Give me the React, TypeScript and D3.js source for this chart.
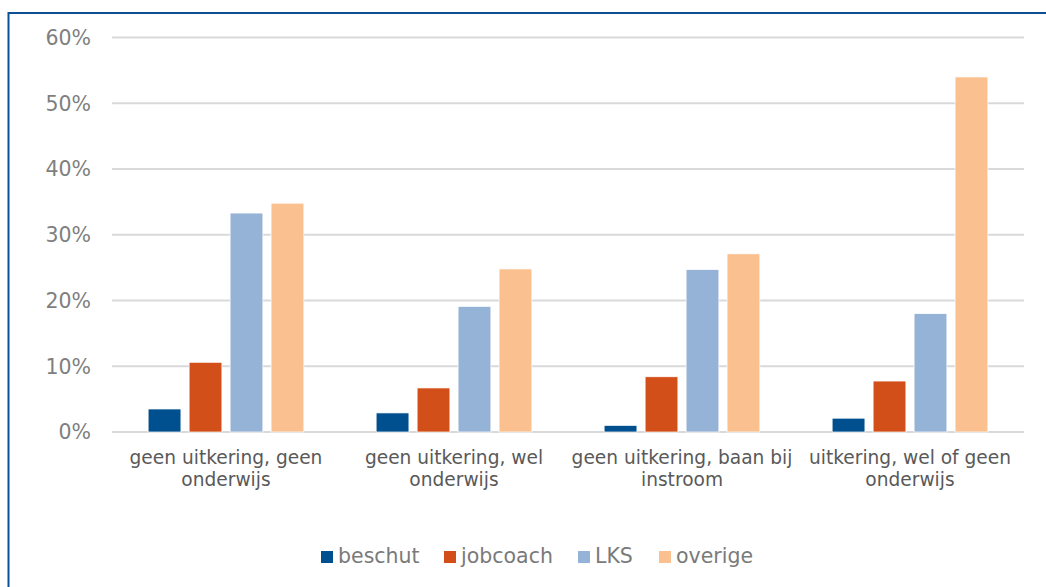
import React from "react";
import * as d3 from "d3";

const categories = [
  "geen uitkering, geen onderwijs",
  "geen uitkering, wel onderwijs",
  "geen uitkering, baan bij instroom",
  "uitkering, wel of geen onderwijs",
];
const seriesNames = ["beschut", "jobcoach", "LKS", "overige"];
const beschut = [0.035, 0.029, 0.01, 0.021];
const jobcoach = [0.106, 0.067, 0.084, 0.0775];
const lks = [0.333, 0.191, 0.247, 0.18];
const overige = [0.348, 0.248, 0.271, 0.54];
const yTicks = [0, 0.1, 0.2, 0.3, 0.4, 0.5, 0.6];
const colors = ["#00508F", "#D34F19", "#95B3D7", "#FAC090"];

const W = 1046;
const H = 587;
const FONT = "'DejaVu Sans', Verdana, sans-serif";

function measure(text: string, size: number): number {
  const c = document.createElement("canvas").getContext("2d");
  if (!c) return text.length * size * 0.6;
  c.font = `${size}px 'DejaVu Sans'`;
  return c.measureText(text).width;
}

function wrap(text: string, maxW: number, size: number): string[] {
  const words = text.split(" ");
  const lines: string[] = [];
  let cur = "";
  for (const w of words) {
    const t = cur ? cur + " " + w : w;
    if (measure(t, size) <= maxW || !cur) cur = t;
    else {
      lines.push(cur);
      cur = w;
    }
  }
  if (cur) lines.push(cur);
  return lines;
}

export default function App() {
  const left = 112;
  const right = 1024;
  const top = 37.5;
  const bottom = 432;
  const series = [beschut, jobcoach, lks, overige];

  const x0 = d3.scaleBand<string>().domain(categories).range([left, right]).paddingInner(0).paddingOuter(0);
  const innerPad = 0.317;
  const groupW = x0.bandwidth() * (1 - innerPad);
  const x1 = d3
    .scaleBand<string>()
    .domain(seriesNames)
    .range([(x0.bandwidth() - groupW) / 2, (x0.bandwidth() + groupW) / 2])
    .paddingInner(0.2)
    .paddingOuter(0);
  const y = d3.scaleLinear().domain([0, 0.6]).range([bottom, top]);
  const fmt = d3.format(".0%");

  const catSize = 18.6;
  const legendSize = 20.5;
  const legendItems = [
    { name: seriesNames[0], x: 321 },
    { name: seriesNames[1], x: 444 },
    { name: seriesNames[2], x: 578 },
    { name: seriesNames[3], x: 659 },
  ];

  return (
    <svg
      width={W}
      height={H}
      style={{ position: "absolute", left: 0, top: 0, background: "#fff" }}
      fontFamily={FONT}
    >
      <rect x={0} y={0} width={W} height={H} fill="#fff" />
      {/* border */}
      <line x1={8.5} y1={13} x2={W + 5} y2={13} stroke="#0B4F94" strokeWidth={2} />
      <line x1={8.5} y1={12} x2={8.5} y2={H + 5} stroke="#0B4F94" strokeWidth={2} />
      {/* gridlines */}
      {yTicks.map((t) => (
        <g key={t}>
          <line x1={left} x2={right} y1={y(t)} y2={y(t)} stroke="#D9D9D9" strokeWidth={1.8} />
          <text
            x={91}
            y={y(t)}
            dy="0.36em"
            textAnchor="end"
            fontSize={20.5}
            fill="#7F7F7F"
          >
            {fmt(t)}
          </text>
        </g>
      ))}
      {/* bars */}
      {categories.map((c, ci) => (
        <g key={c} transform={`translate(${x0(c)},0)`}>
          {series.map((s, si) => (
            <rect
              key={si}
              x={x1(seriesNames[si])}
              y={y(s[ci])}
              width={x1.bandwidth()}
              height={bottom - y(s[ci])}
              fill={colors[si]}
              stroke="#fff"
              strokeWidth={0.7}
            />
          ))}
        </g>
      ))}
      {/* category labels */}
      {categories.map((c) => {
        const lines = wrap(c, 240, catSize);
        const cx = (x0(c) as number) + x0.bandwidth() / 2;
        return (
          <text key={c} x={cx} y={464} textAnchor="middle" fontSize={catSize} fill="#595959">
            {lines.map((l, i) => (
              <tspan key={i} x={cx} dy={i === 0 ? 0 : 21.5}>
                {l}
              </tspan>
            ))}
          </text>
        );
      })}
      {/* legend */}
      {legendItems.map((it, i) => (
        <g key={it.name}>
          <rect x={it.x} y={551} width={12} height={12} fill={colors[i]} />
          <text x={it.x + 17} y={563} fontSize={legendSize} fill="#7A7A7A">
            {it.name}
          </text>
        </g>
      ))}
    </svg>
  );
}
